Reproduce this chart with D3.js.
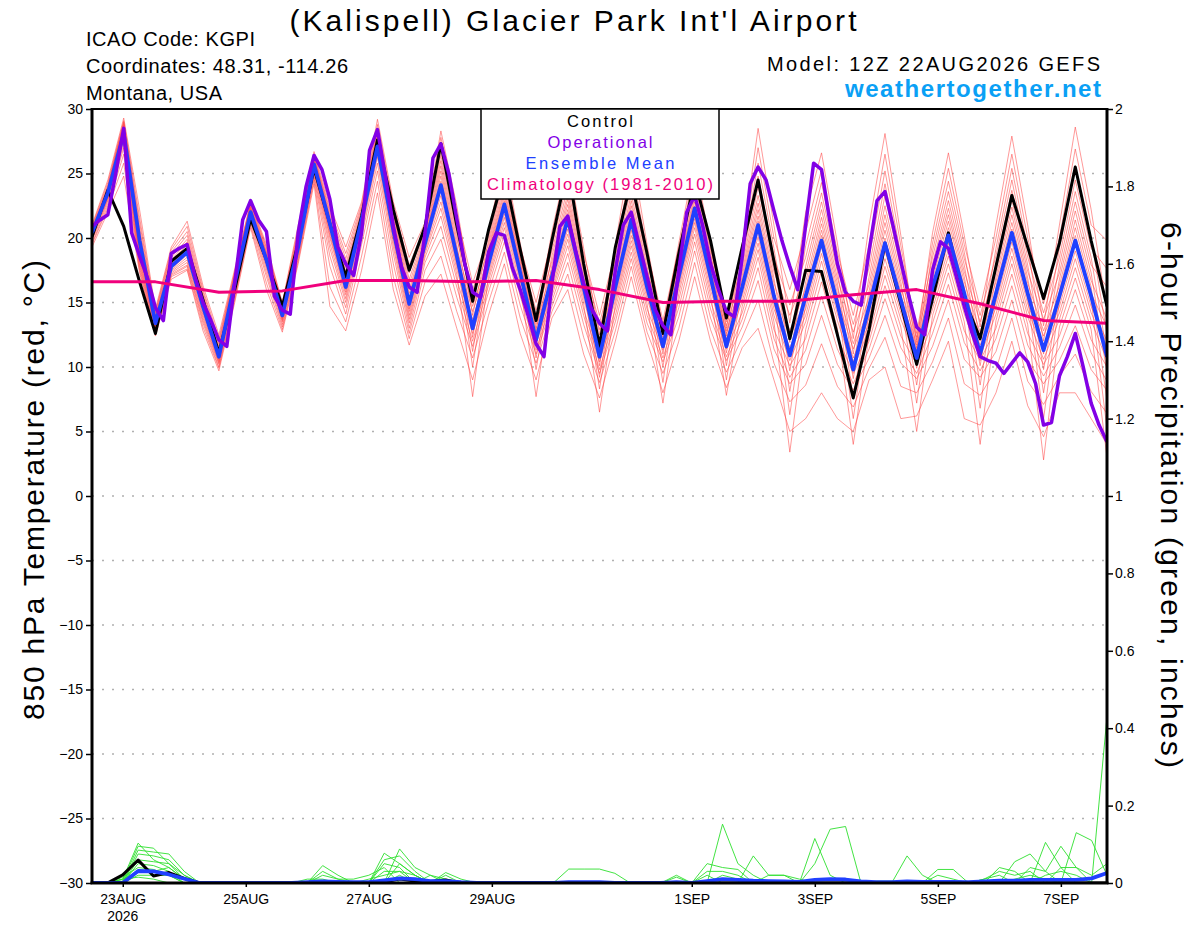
<!DOCTYPE html>
<html>
<head>
<meta charset="utf-8">
<script src="https://cdn.jsdelivr.net/npm/d3@7"></script>
<style>
  body { margin: 0; background: #fff; }
  svg { display: block; }
</style>
</head>
<body>
<svg id="chart" width="1200" height="927"></svg>
<script>
// hours are counted from the model run, 22AUG2026 12Z
const dateTicks = ["23AUG", "25AUG", "27AUG", "29AUG", "1SEP", "3SEP", "5SEP", "7SEP"]
const dateTickHours = [12, 60, 108, 156, 234, 282, 330, 378]
const tempTicks = [-30, -25, -20, -15, -10, -5, 0, 5, 10, 15, 20, 25, 30]
const precipTicks = [0, 0.2, 0.4, 0.6, 0.8, 1, 1.2, 1.4, 1.6, 1.8, 2]
const legendLabels = ["Control", "Operational", "Ensemble Mean", "Climatology (1981-2010)"]

// 850 hPa temperature, 6-hourly
const controlTemp = [
  20.1, 23.7, 20.9, 16.6, 12.6, 18.2, 19.2, 15.2, 11.1, 16.0, 21.5, 18.3,
  14.7, 19.6, 25.4, 21.1, 17.0, 21.7, 27.6, 22.2, 17.5, 20.9, 27.3, 21.0,
  15.1, 20.6, 25.0, 19.1, 13.6, 19.8, 25.5, 18.0, 11.6, 19.3, 24.5, 18.8,
  12.6, 18.8, 24.5, 19.8, 13.8, 19.3, 24.5, 18.2, 12.2, 17.5, 17.4, 12.5,
  7.6, 12.9, 19.6, 14.9, 10.2, 15.3, 20.4, 15.2, 12.2, 17.8, 23.3, 19.3,
  15.3, 19.6, 25.5, 19.8, 14.7
]
const meanTemp = [
  20.4, 23.5, 28.1, 19.8, 13.4, 17.8, 18.9, 14.7, 10.8, 16.5, 22.0, 18.3,
  14.0, 19.3, 25.7, 21.1, 16.2, 21.4, 27.1, 20.6, 14.9, 19.6, 24.1, 18.6,
  13.0, 18.0, 22.6, 17.3, 12.1, 17.0, 21.5, 16.2, 10.8, 16.2, 21.4, 16.2,
  11.6, 17.0, 22.3, 17.0, 11.6, 16.2, 21.0, 15.5, 10.9, 15.5, 19.8, 14.9,
  9.8, 14.7, 19.6, 15.2, 10.7, 16.2, 20.2, 15.7, 11.0, 15.7, 20.4, 15.7,
  11.3, 15.5, 19.8, 15.5, 10.8
]
// operational run, 3-hourly
const operationalTemp = [
  20.9, 21.4, 21.8, 25.0, 28.5, 20.4, 18.6, 16.9,
  14.6, 13.6, 18.8, 19.2, 19.5, 17.0, 15.0, 13.6,
  12.1, 11.6, 16.5, 21.4, 22.9, 21.4, 20.5, 15.5,
  14.4, 14.1, 20.4, 24.0, 26.4, 25.3, 23.0, 19.3,
  18.0, 17.1, 20.4, 26.8, 28.4, 24.8, 20.9, 17.8,
  16.2, 15.8, 20.4, 26.2, 27.3, 25.0, 21.5, 18.0,
  15.8, 15.4, 18.9, 20.4, 20.2, 17.7, 16.0, 14.0,
  11.8, 10.8, 16.5, 20.9, 21.7, 19.0, 16.5, 14.5,
  13.4, 12.8, 17.5, 21.0, 22.0, 19.5, 17.0, 14.5,
  13.2, 12.5, 17.5, 22.0, 23.3, 21.0, 18.0, 16.0,
  14.3, 13.9, 18.5, 24.2, 25.5, 24.5, 22.1, 19.8,
  17.8, 16.0, 21.0, 25.8, 25.3, 21.5, 18.0, 15.8,
  15.1, 14.8, 19.0, 22.9, 23.6, 21.0, 18.2, 15.5,
  13.1, 12.5, 17.5, 19.7, 19.2, 17.0, 14.7, 12.6,
  10.8, 10.5, 10.3, 9.5, 10.3, 11.1, 10.4, 8.7,
  5.5, 5.7, 9.3, 10.8, 12.6, 10.0, 7.2, 5.5,
  4.2
]
// climatology, daily
const climatologyTemp = [16.6, 16.6, 15.8, 15.9, 16.7, 16.7, 16.6, 16.7, 16.0, 15.0, 15.1, 15.1, 15.6, 16.0, 14.9, 13.6, 13.4]

// ensemble members: one row per 6-hour step, 20 members per row
const ensembleTemp = [
  [21.0,20.9,20.8,20.7,20.6,20.6,20.5,20.5,20.4,20.4,20.3,20.3,20.2,20.1,20.0,19.9,19.8,19.6,19.5,19.3],
  [24.5,24.3,24.1,24.0,23.9,23.8,23.7,23.6,23.5,23.5,23.4,23.3,23.2,23.1,23.0,22.9,22.7,22.5,22.3,22.0],
  [29.3,29.1,29.0,28.9,28.8,28.7,28.6,28.5,28.4,28.3,28.2,28.1,28.0,27.8,27.6,27.3,27.0,26.5,25.8,24.8],
  [22.2,21.6,21.2,20.8,20.5,20.2,19.9,19.7,19.5,19.3,19.1,18.9,18.7,18.5,18.3,18.1,17.9,17.7,17.5,17.3],
  [14.5,14.3,14.2,14.0,13.9,13.8,13.7,13.6,13.5,13.4,13.4,13.3,13.2,13.1,13.0,12.9,12.8,12.7,12.5,12.4],
  [19.3,19.1,18.9,18.7,18.5,18.3,18.2,18.1,18.0,17.9,17.8,17.7,17.6,17.5,17.4,17.3,17.2,17.1,17.0,16.8],
  [21.3,20.9,20.5,20.2,19.9,19.7,19.5,19.3,19.1,19.0,18.9,18.8,18.7,18.5,18.3,18.1,17.9,17.8,17.6,17.5],
  [16.3,16.0,15.8,15.6,15.4,15.2,15.0,14.9,14.8,14.7,14.6,14.5,14.4,14.2,14.0,13.8,13.6,13.4,13.1,12.8],
  [12.5,12.2,12.0,11.8,11.6,11.4,11.2,11.1,11.0,10.9,10.8,10.7,10.6,10.5,10.4,10.3,10.2,10.0,9.9,9.7],
  [17.6,17.4,17.3,17.2,17.1,17.0,16.9,16.8,16.7,16.6,16.5,16.4,16.3,16.2,16.0,15.8,15.6,15.4,15.2,15.0],
  [22.8,22.7,22.6,22.5,22.4,22.3,22.2,22.2,22.1,22.0,22.0,21.9,21.8,21.7,21.6,21.5,21.4,21.2,21.0,20.8],
  [19.5,19.3,19.2,19.0,18.9,18.8,18.7,18.6,18.5,18.4,18.3,18.2,18.1,18.0,17.8,17.6,17.3,17.0,16.5,16.0],
  [15.0,14.9,14.8,14.7,14.6,14.5,14.4,14.3,14.2,14.1,14.0,13.9,13.8,13.7,13.6,13.5,13.3,13.1,12.9,12.7],
  [21.0,20.7,20.5,20.3,20.1,19.9,19.8,19.7,19.6,19.5,19.4,19.3,19.2,19.1,19.0,18.8,18.6,18.4,18.2,18.0],
  [26.7,26.5,26.4,26.3,26.2,26.1,26.0,25.9,25.8,25.8,25.7,25.6,25.5,25.4,25.3,25.1,24.9,24.7,24.5,24.2],
  [22.5,22.2,22.0,21.8,21.6,21.5,21.4,21.2,21.0,20.8,20.6,20.4,20.2,20.0,19.6,19.2,18.6,17.8,16.2,14.7],
  [19.3,18.8,18.4,18.0,17.7,17.4,17.1,16.8,16.6,16.4,16.2,16.0,15.8,15.6,15.3,15.0,14.6,14.1,13.5,12.8],
  [22.8,22.6,22.4,22.2,22.0,21.9,21.8,21.7,21.6,21.5,21.4,21.3,21.2,21.0,20.8,20.5,20.1,19.5,18.6,17.5],
  [29.2,28.8,28.5,28.3,28.1,27.9,27.7,27.5,27.4,27.3,27.2,27.1,27.0,26.8,26.6,26.3,25.8,25.2,24.4,23.5],
  [22.8,22.5,22.2,22.0,21.8,21.6,21.4,21.2,21.0,20.8,20.6,20.4,20.2,20.0,19.7,19.3,18.8,18.0,17.0,16.0],
  [18.5,17.9,17.3,16.8,16.4,16.0,15.7,15.4,15.1,14.9,14.7,14.5,14.3,14.0,13.7,13.4,13.0,12.6,12.2,11.7],
  [21.2,20.9,20.7,20.5,20.3,20.1,19.9,19.8,19.7,19.6,19.5,19.4,19.2,19.0,18.8,18.5,18.1,17.5,16.6,15.5],
  [28.3,27.8,27.3,26.8,26.4,26.0,25.6,25.2,24.8,24.4,24.1,23.7,23.3,22.8,22.3,21.7,20.9,19.9,18.6,17.2],
  [22.5,21.8,21.2,20.7,20.3,19.9,19.5,19.2,18.9,18.7,18.5,18.2,17.9,17.6,17.2,16.8,16.2,15.4,14.3,13.0],
  [15.1,16.5,14.0,16.0,13.1,15.5,12.3,14.7,11.2,14.3,10.0,13.7,13.4,12.9,7.7,12.6,12.0,11.6,10.7,9.0],
  [20.5,20.1,19.8,19.5,19.2,19.0,18.8,18.6,18.4,18.2,18.0,17.8,17.6,17.3,17.0,16.7,16.3,15.8,15.0,14.0],
  [26.2,25.6,25.0,24.6,24.2,23.8,23.5,23.2,22.9,22.7,22.5,22.2,21.9,21.6,21.2,20.8,20.3,19.7,18.9,18.0],
  [19.6,19.3,19.0,18.8,18.6,18.4,18.2,18.0,17.8,17.6,17.4,17.2,17.0,16.7,16.4,16.0,15.5,14.8,13.8,12.6],
  [13.6,15.0,12.8,14.4,12.2,14.0,11.6,13.3,10.7,13.0,9.8,12.6,12.4,12.0,7.7,11.8,11.3,11.0,10.3,9.0],
  [20.5,19.9,19.4,19.0,18.6,18.2,17.9,17.6,17.3,17.1,16.9,16.7,16.4,16.1,15.8,15.5,15.1,14.7,14.3,13.8],
  [26.0,25.2,24.5,23.9,23.4,23.0,22.6,22.2,21.9,21.6,21.3,21.0,20.7,20.3,19.9,19.4,18.8,18.1,17.2,16.0],
  [19.2,18.8,18.4,18.1,17.8,17.5,17.2,16.9,16.6,16.4,16.2,15.9,15.6,15.3,14.9,14.5,14.0,13.3,12.3,11.0],
  [12.5,14.0,11.5,13.4,10.8,12.9,10.1,12.1,9.2,11.8,8.3,11.2,11.0,10.6,6.5,10.4,9.8,9.5,8.8,7.6],
  [19.5,19.0,18.5,18.1,17.7,17.4,17.1,16.8,16.5,16.3,16.1,15.8,15.5,15.2,14.9,14.5,14.0,13.5,12.8,12.0],
  [26.8,25.6,24.7,24.0,23.4,22.9,22.5,22.1,21.8,21.5,21.2,20.9,20.6,20.2,19.8,19.4,18.9,18.4,17.8,17.0],
  [19.5,19.0,18.6,18.2,17.8,17.5,17.2,16.9,16.6,16.4,16.2,15.9,15.6,15.3,14.9,14.5,14.0,13.4,12.7,12.0],
  [12.9,13.6,12.3,13.3,11.7,13.1,11.0,12.7,10.0,12.5,8.8,12.1,11.9,11.5,7.2,11.3,10.7,10.4,9.5,8.0],
  [19.6,19.2,18.9,18.6,18.3,18.0,17.8,17.6,17.4,17.2,17.0,16.7,16.4,16.1,15.7,15.2,14.6,13.9,13.0,12.0],
  [26.0,25.3,24.7,24.2,23.8,23.4,23.1,22.8,22.5,22.3,22.1,21.8,21.5,21.2,20.8,20.3,19.7,19.0,18.1,17.0],
  [19.5,19.2,18.9,18.6,18.3,18.0,17.8,17.6,17.4,17.2,17.0,16.7,16.4,16.0,15.6,15.1,14.5,13.8,12.9,12.0],
  [13.0,13.8,12.4,13.5,11.8,13.2,11.1,12.8,10.1,12.6,9.0,12.2,12.0,11.6,7.8,11.4,10.8,10.5,9.6,8.4],
  [19.5,19.0,18.6,18.2,17.8,17.4,17.1,16.8,16.5,16.3,16.1,15.8,15.5,15.1,14.7,14.2,13.7,13.1,12.3,11.5],
  [28.5,27.0,25.8,24.8,24.0,23.3,22.7,22.2,21.7,21.3,20.9,20.5,20.1,19.6,19.1,18.5,17.7,16.7,15.2,13.0],
  [21.0,20.0,19.2,18.5,17.9,17.4,16.9,16.5,16.1,15.7,15.3,14.9,14.5,14.0,13.5,12.9,12.2,11.4,10.3,9.0],
  [13.4,16.0,11.9,14.8,10.8,14.0,9.7,12.8,8.1,12.3,6.3,11.5,11.1,10.5,3.4,10.1,9.2,8.7,7.3,5.0],
  [22.0,20.5,19.4,18.5,17.8,17.2,16.6,16.1,15.7,15.3,14.9,14.5,14.0,13.5,12.9,12.2,11.3,10.2,8.6,6.0],
  [26.6,25.3,24.3,23.5,22.8,22.2,21.6,21.1,20.6,20.2,19.8,19.3,18.8,18.2,17.5,16.6,15.5,14.0,11.8,8.0],
  [19.6,18.9,18.3,17.8,17.4,16.9,16.5,16.1,15.7,15.3,14.9,14.5,14.1,13.6,13.0,12.3,11.4,10.2,8.5,6.0],
  [12.2,14.0,11.0,13.3,10.1,12.7,9.1,11.8,7.6,11.4,6.0,10.7,10.4,9.8,4.0,9.5,8.7,8.2,6.9,5.0],
  [21.0,19.5,18.5,17.7,17.0,16.4,15.9,15.4,15.0,14.6,14.2,13.8,13.4,13.0,12.5,12.0,11.4,10.7,9.9,9.0],
  [28.1,26.5,25.2,24.2,23.3,22.5,21.8,21.2,20.6,20.0,19.5,19.0,18.4,17.8,17.1,16.3,15.3,14.0,12.3,10.0],
  [20.2,19.4,18.7,18.1,17.6,17.1,16.6,16.2,15.8,15.4,15.0,14.6,14.2,13.7,13.1,12.4,11.5,10.3,8.5,6.0],
  [11.9,12.6,11.3,12.3,10.7,12.1,9.9,11.7,8.6,11.5,7.2,11.1,10.9,10.5,5.0,10.2,9.5,9.1,8.0,6.2],
  [20.4,19.6,19.0,18.5,18.0,17.6,17.2,16.8,16.4,16.1,15.8,15.4,15.0,14.5,14.0,13.4,12.6,11.6,10.4,9.0],
  [26.6,25.4,24.4,23.6,22.9,22.3,21.8,21.3,20.8,20.4,20.0,19.6,19.1,18.6,18.0,17.3,16.4,15.2,13.8,12.0],
  [20.2,19.5,18.9,18.4,17.9,17.4,17.0,16.6,16.2,15.8,15.4,15.0,14.6,14.1,13.5,12.8,11.9,10.6,8.7,6.0],
  [13.1,14.6,12.0,14.0,11.1,13.5,10.1,12.7,8.6,12.3,6.8,11.7,11.4,10.8,4.0,10.5,9.7,9.2,7.8,5.5],
  [21.0,20.0,19.2,18.6,18.0,17.5,17.0,16.6,16.2,15.8,15.4,15.0,14.6,14.1,13.6,13.0,12.2,11.2,9.8,8.0],
  [27.9,26.5,25.4,24.5,23.7,23.0,22.4,21.8,21.2,20.7,20.2,19.7,19.2,18.6,18.0,17.2,16.3,15.2,13.8,12.0],
  [21.0,20.0,19.2,18.5,17.9,17.4,16.9,16.5,16.1,15.7,15.3,14.9,14.4,13.9,13.3,12.6,11.7,10.5,8.9,7.0],
  [13.2,14.9,12.0,14.2,11.0,13.7,9.8,12.8,8.0,12.4,6.0,11.6,11.3,10.6,2.8,10.2,9.3,8.7,7.1,4.6],
  [21.0,20.0,19.2,18.5,17.9,17.3,16.8,16.3,15.9,15.5,15.1,14.7,14.2,13.7,13.1,12.4,11.5,10.5,9.3,8.0],
  [28.6,26.9,25.6,24.5,23.6,22.8,22.1,21.4,20.8,20.2,19.6,19.0,18.4,17.7,16.9,16.0,14.8,13.2,11.0,8.0],
  [22.2,21.0,20.0,19.2,18.5,17.9,17.3,16.7,16.2,15.7,15.2,14.7,14.2,13.6,12.9,12.1,11.1,9.8,8.1,6.0],
  [14.4,19.8,12.5,17.6,11.0,16.2,9.5,13.7,7.4,13.1,5.2,12.0,11.5,10.5,3.0,10.0,8.9,8.2,6.4,4.0]
]

// 6-hour precipitation (inches), 6-hourly on the date axis
const controlPrecip = [
  0, 0, .021, .059, .018, .027, .012, 0, 0, 0,
  0, 0, 0, 0, 0, 0, 0, 0, 0, .003,
  .01, .005, .004, .008, 0, 0, 0, 0, 0, 0,
  0, 0, 0, 0, 0, 0, 0, 0, 0, 0,
  0, 0, 0, 0, 0, 0, 0, 0, 0, 0,
  0, 0, 0, 0, 0, 0, 0, 0, 0, 0,
  0, 0, 0, 0, 0, 0, 0
]
const meanPrecip = [
  0, 0, 0, .031, .030, .022, .011, 0, 0, 0,
  0, 0, 0, 0, .002, .004, .003, .002, .002, .007,
  .012, .01, .005, .005, .002, 0, 0, 0, 0, 0,
  0, .002, .002, .002, 0, 0, 0, 0, .002, 0,
  .005, .01, .008, .006, .005, .004, .003, .008, .01, .009,
  .004, .002, .002, .004, .003, .003, .003, .002, .004, .006,
  .006, .008, .008, .008, .008, .012, .026
]
const memberPrecip = [
  [0, 0, .01, .103, .06, .04, .01, 0, 0, 0,
   0, 0, 0, 0, 0, 0, 0, 0, 0, .077,
   .05, .02, 0, 0, 0, 0, 0, 0, 0, 0,
   0, 0, 0, 0, 0, 0, 0, 0, 0, 0,
   0, 0, 0, 0, 0, 0, 0, .115, .02, 0,
   0, 0, 0, 0, 0, 0, 0, 0, 0, 0,
   0, 0, .105, .04, 0, 0, 0],
  [0, 0, .005, .095, .09, .05, .02, 0, 0, 0,
   0, 0, 0, 0, 0, .045, .02, 0, 0, 0,
   .088, .04, .02, 0, 0, 0, 0, 0, 0, 0,
   0, 0, 0, 0, 0, 0, 0, 0, 0, 0,
   0, .152, .05, .02, 0, 0, 0, 0, 0, 0,
   0, 0, 0, 0, 0, 0, 0, 0, 0, 0,
   0, .04, .03, .095, .04, 0, 0],
  [0, 0, 0, .085, .08, .075, .03, 0, 0, 0,
   0, 0, 0, 0, 0, 0, 0, 0, 0, .06,
   .07, .03, 0, .027, .01, 0, 0, 0, 0, 0,
   0, 0, 0, 0, 0, 0, 0, 0, 0, 0,
   0, 0, 0, 0, 0, 0, 0, .05, .139, .146,
   0, 0, 0, 0, 0, 0, 0, 0, 0, 0,
   0, 0, 0, 0, .13, .11, .02],
  [0, 0, 0, .075, .07, .06, .02, 0, 0, 0,
   0, 0, 0, 0, 0, .03, .01, 0, 0, 0,
   .05, .02, 0, 0, 0, 0, 0, 0, 0, 0,
   0, .036, .036, .036, .025, 0, 0, 0, 0, 0,
   0, 0, 0, 0, 0, 0, 0, 0, 0, 0,
   0, 0, 0, .07, .02, 0, 0, 0, 0, 0,
   .055, .075, .03, 0, 0, 0, 0],
  [0, 0, 0, .06, .055, .05, .01, 0, 0, 0,
   0, 0, 0, 0, 0, 0, 0, 0, 0, .05,
   .04, 0, 0, 0, 0, 0, 0, 0, 0, 0,
   0, 0, 0, 0, 0, 0, 0, 0, 0, 0,
   0, 0, 0, .07, .02, .02, 0, 0, 0, 0,
   0, 0, 0, 0, 0, .035, .035, 0, 0, .04,
   .03, 0, 0, 0, 0, 0, 0],
  [0, 0, 0, .05, .045, .03, 0, 0, 0, 0,
   0, 0, 0, 0, 0, .02, .01, .01, .02, .04,
   0, 0, 0, 0, 0, 0, 0, 0, 0, 0,
   0, 0, 0, 0, 0, 0, 0, 0, 0, 0,
   .05, .04, .035, 0, 0, 0, 0, 0, 0, 0,
   0, 0, 0, 0, 0, 0, 0, 0, .01, .03,
   .02, .03, 0, 0, 0, 0, 0],
  [0, 0, .015, .04, .035, .02, 0, 0, 0, 0,
   0, 0, 0, 0, 0, 0, 0, 0, 0, .03,
   .03, .02, 0, 0, 0, 0, 0, 0, 0, 0,
   0, 0, 0, 0, 0, 0, 0, 0, .02, 0,
   .03, .03, .02, 0, 0, 0, 0, 0, 0, 0,
   0, 0, 0, 0, 0, 0, 0, 0, 0, 0,
   0, 0, 0, .04, .04, .02, .05],
  [0, 0, .01, .03, .03, .04, .01, 0, 0, 0,
   0, 0, 0, 0, 0, 0, 0, 0, .01, .02,
   .03, 0, 0, .02, 0, 0, 0, 0, 0, 0,
   0, 0, 0, 0, 0, 0, 0, 0, .015, 0,
   .02, 0, 0, 0, 0, 0, 0, 0, 0, 0,
   0, 0, 0, 0, 0, .02, .01, 0, 0, 0,
   0, 0, .02, .03, .02, 0, 0],
  [0, 0, 0, .02, .02, .02, 0, 0, 0, 0,
   0, 0, 0, 0, .01, .01, 0, 0, 0, 0,
   0, 0, .02, .01, 0, 0, 0, 0, 0, 0,
   0, 0, 0, 0, 0, 0, 0, 0, 0, 0,
   0, 0, 0, 0, .02, .02, .01, 0, 0, 0,
   0, .005, .005, 0, 0, 0, 0, 0, 0, 0,
   .01, .02, .01, 0, 0, 0, 0],
  [0, 0, .01, .015, .01, 0, 0, 0, 0, 0,
   0, 0, 0, 0, 0, 0, 0, 0, 0, 0,
   .02, 0, 0, 0, 0, 0, 0, 0, 0, 0,
   0, 0, 0, 0, 0, 0, 0, 0, 0, 0,
   0, .02, .01, 0, 0, 0, 0, 0, 0, 0,
   0, 0, 0, 0, 0, 0, 0, 0, .01, .02,
   0, 0, 0, 0, 0, 0, .43]
]

const font = "'Liberation Sans', Arial, Helvetica, sans-serif"
const colors = {
  member: "#ff3c3c",
  rain: "#2ee02e",
  control: "#000000",
  operational: "#8200e6",
  mean: "#2040ff",
  climatology: "#f0007c",
  site: "#0aa0f5",
  grid: "#b0b0b0"
}
const legendColors = [colors.control, colors.operational, colors.mean, colors.climatology]

const plot = { left: 92, right: 1107, top: 109, bottom: 883 }

const svg = d3.select("#chart")
svg.append("rect").attr("width", 1200).attr("height", 927).attr("fill", "#fff")

// temperature runs on its own time axis, the rain and date labels on another
const xTemp = d3.scaleLinear().domain([0, 384]).range([plot.left, plot.right])
const xPrecip = d3.scaleLinear().domain([0, 396]).range([plot.left, plot.right])
const yTemp = d3.scaleLinear().domain([-30, 30]).range([plot.bottom, plot.top])
const yPrecip = d3.scaleLinear().domain([0, 2]).range([plot.bottom, plot.top])

svg.append("defs").append("clipPath").attr("id", "plotClip")
  .append("rect")
  .attr("x", plot.left).attr("y", plot.top)
  .attr("width", plot.right - plot.left).attr("height", plot.bottom - plot.top)

// dotted grid
svg.append("g")
  .selectAll("line")
  .data(tempTicks.filter((t) => t > -30 && t < 30))
  .join("line")
  .attr("x1", plot.left).attr("x2", plot.right)
  .attr("y1", (d) => yTemp(d)).attr("y2", (d) => yTemp(d))
  .attr("stroke", colors.grid)
  .attr("stroke-width", 1.5)
  .attr("stroke-dasharray", "2,8")

const tempLine = (hoursPerStep) => d3.line()
  .x((d, i) => xTemp(i * hoursPerStep))
  .y((d) => yTemp(d))
const precipLine = d3.line()
  .x((d, i) => xPrecip(i * 6))
  .y((d) => yPrecip(d))

const data = svg.append("g").attr("clip-path", "url(#plotClip)")

data.append("g")
  .selectAll("path")
  .data(d3.transpose(ensembleTemp))
  .join("path")
  .attr("fill", "none")
  .attr("stroke", colors.member)
  .attr("stroke-opacity", 0.7)
  .attr("stroke-width", 0.75)
  .attr("d", tempLine(6))

const thick = (series, hoursPerStep, color, width) => data.append("path")
  .datum(series)
  .attr("fill", "none")
  .attr("stroke", color)
  .attr("stroke-width", width)
  .attr("stroke-linejoin", "round")
  .attr("d", tempLine(hoursPerStep))

thick(controlTemp, 6, colors.control, 3)
thick(meanTemp, 6, colors.mean, 3.8)
thick(operationalTemp, 3, colors.operational, 3.5)
thick(climatologyTemp, 24, colors.climatology, 3)

// precipitation
data.append("g")
  .selectAll("path")
  .data(memberPrecip)
  .join("path")
  .attr("fill", "none")
  .attr("stroke", colors.rain)
  .attr("stroke-width", 0.9)
  .attr("d", precipLine)

data.append("path").datum(controlPrecip)
  .attr("fill", "none").attr("stroke", colors.control)
  .attr("stroke-width", 3).attr("stroke-linejoin", "round")
  .attr("d", precipLine)
data.append("path").datum(meanPrecip)
  .attr("fill", "none").attr("stroke", colors.mean)
  .attr("stroke-width", 3.8).attr("stroke-linejoin", "round")
  .attr("d", precipLine)

// axes
const styleAxis = (g) => {
  g.select(".domain").remove()
  g.selectAll(".tick line").attr("stroke", "#000").attr("stroke-width", 1.5)
  g.selectAll(".tick text").attr("fill", "#000").attr("font-family", font).attr("font-size", 14)
}

svg.append("g")
  .attr("transform", `translate(${plot.left},0)`)
  .call(d3.axisLeft(yTemp).tickValues(tempTicks).tickSize(6).tickPadding(3))
  .call(styleAxis)

svg.append("g")
  .attr("transform", `translate(${plot.right},0)`)
  .call(d3.axisRight(yPrecip).tickValues(precipTicks).tickSize(6).tickPadding(2)
    .tickFormat((d) => d3.format("~g")(+d.toFixed(1))))
  .call(styleAxis)

svg.append("g")
  .attr("transform", `translate(0,${plot.bottom})`)
  .call(d3.axisBottom(xPrecip).tickValues(dateTickHours).tickSize(4).tickPadding(7)
    .tickFormat((d, i) => dateTicks[i]))
  .call(styleAxis)

svg.append("text")
  .attr("x", xPrecip(dateTickHours[0])).attr("y", 921)
  .attr("text-anchor", "middle")
  .attr("font-family", font).attr("font-size", 14)
  .text("2026")

// frame
const frame = svg.append("g").attr("stroke", "#000")
frame.append("line").attr("x1", plot.left - 1.5).attr("x2", plot.right + 1.5)
  .attr("y1", plot.top).attr("y2", plot.top).attr("stroke-width", 2)
frame.append("line").attr("x1", plot.left - 1.5).attr("x2", plot.right + 1.5)
  .attr("y1", plot.bottom).attr("y2", plot.bottom).attr("stroke-width", 3)
frame.append("line").attr("x1", plot.left).attr("x2", plot.left)
  .attr("y1", plot.top).attr("y2", plot.bottom).attr("stroke-width", 3)
frame.append("line").attr("x1", plot.right).attr("x2", plot.right)
  .attr("y1", plot.top).attr("y2", plot.bottom).attr("stroke-width", 3)

// legend box
const legend = svg.append("g")
legend.append("rect")
  .attr("x", 481).attr("y", plot.top)
  .attr("width", 238).attr("height", 90)
  .attr("fill", "#fff").attr("stroke", "#000").attr("stroke-width", 1.5)
const legendWidths = [66, 105, 149, 226]
legend.selectAll("text")
  .data(legendLabels)
  .join("text")
  .attr("x", 600)
  .attr("y", (d, i) => 127 + i * 21)
  .attr("text-anchor", "middle")
  .attr("font-family", font).attr("font-size", 16.5)
  .attr("fill", (d, i) => legendColors[i])
  .attr("textLength", (d, i) => legendWidths[i])
  .attr("lengthAdjust", "spacing")
  .text((d) => d)

// titles and labels
const label = (txt, x, y, size, opts = {}) => {
  const t = svg.append("text")
    .attr("x", x).attr("y", y)
    .attr("font-family", font).attr("font-size", size)
    .attr("text-anchor", opts.anchor || "start")
    .attr("fill", opts.fill || "#000")
    .text(txt)
  if (opts.bold) t.attr("font-weight", "bold")
  if (opts.len) t.attr("textLength", opts.len).attr("lengthAdjust", "spacing")
  if (opts.rotate) t.attr("transform", `rotate(${opts.rotate},${x},${y})`)
  return t
}

label("(Kalispell) Glacier Park Int'l Airport", 573, 31, 30, { anchor: "middle", len: 567 })
label("ICAO Code: KGPI", 86, 46, 20, { len: 169 })
label("Coordinates: 48.31, -114.26", 86, 73, 20, { len: 262 })
label("Montana, USA", 86, 100, 20, { len: 136 })
label("Model: 12Z 22AUG2026 GEFS", 1100, 71, 20, { anchor: "end", len: 333 })
label("weathertogether.net", 1101, 97, 24, { anchor: "end", bold: true, fill: colors.site, len: 256 })
label("850 hPa Temperature (red, °C)", 44, 490, 30, { anchor: "middle", rotate: -90, len: 460 })
label("6-hour Precipitation (green, inches)", 1161, 495, 30, { anchor: "middle", rotate: 90, len: 546 })
</script>
</body>
</html>
